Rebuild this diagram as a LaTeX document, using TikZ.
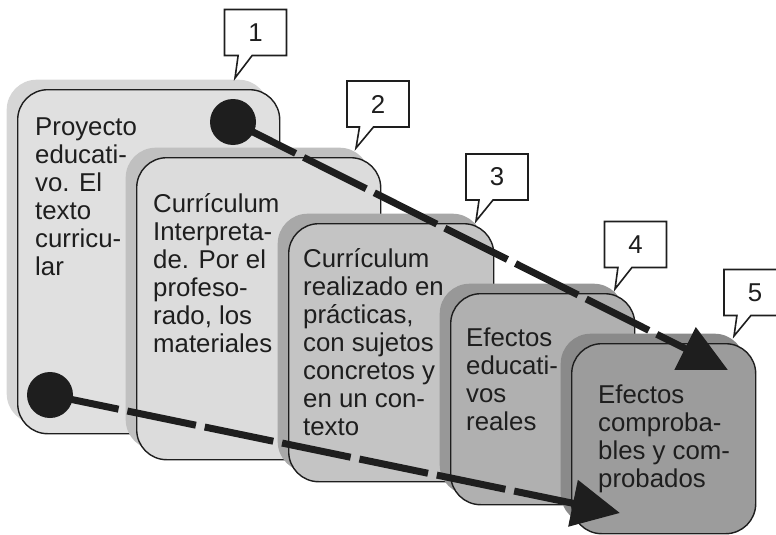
\documentclass[tikz,border=0pt]{standalone}
\usepackage{fontspec}
\setmainfont{Liberation Sans}
\usepackage{xcolor}
\usetikzlibrary{arrows.meta,shadows,shapes.callouts}

\definecolor{ink}{HTML}{1E1E1E}
\definecolor{fillA}{HTML}{E0E0E0}
\definecolor{shadeA}{HTML}{D6D6D6}
\definecolor{fillB}{HTML}{DCDCDC}
\definecolor{shadeB}{HTML}{C0C0C0}
\definecolor{fillC}{HTML}{C4C4C4}
\definecolor{shadeC}{HTML}{A8A8A8}
\definecolor{fillD}{HTML}{B0B0B0}
\definecolor{shadeD}{HTML}{989898}
\definecolor{fillE}{HTML}{9C9C9C}
\definecolor{shadeE}{HTML}{8A8A8A}

\tikzset{
  stage/.style 2 args={draw=ink, line width=1.4pt, rounded corners=30pt,
    fill=#1, anchor=north west, inner sep=0pt,
    general shadow={fill=#2, shadow xshift=-11pt, shadow yshift=10pt}},
  label text/.style={anchor=north west, align=left, inner sep=0pt,
    font=\fontsize{25.8}{28}\selectfont, text=ink},
  tag/.style={rectangle callout, draw=ink, line width=1.6pt, fill=white,
    minimum width=62pt, minimum height=46pt, inner sep=0pt,
    callout pointer width=14pt, font=\fontsize{25.8}{28}\selectfont, text=ink},
  dot/.style={circle, fill=ink, minimum size=46pt, inner sep=0pt},
  flow/.style={draw=ink, line width=7pt, dash pattern=on 70pt off 9pt,
    -{Triangle[length=48pt,width=46pt]}}
}

\begin{document}
\begin{tikzpicture}[x=1pt,y=-1pt]
    \useasboundingbox (0,0) rectangle (776,535);

    % the five stages, back to front
    \node[stage={fillA}{shadeA}, minimum width=262, minimum height=344] (b1) at (17,89) {};
    \node[stage={fillB}{shadeB}, minimum width=244, minimum height=302] (b2) at (136,157) {};
    \node[stage={fillC}{shadeC}, minimum width=205, minimum height=258] (b3) at (288,223) {};
    \node[stage={fillD}{shadeD}, minimum width=184, minimum height=211] (b4) at (450,293) {};
    \node[stage={fillE}{shadeE}, minimum width=184, minimum height=190] (b5) at (571,343) {};

    \node[label text] (t1) at ([shift={(18,29)}]b1.north west)
        {Proyecto\\educati-\\vo. El\\texto\\curricu-\\lar};
    \node[label text] (t2) at ([shift={(17,36)}]b2.north west)
        {Currículum\\Interpreta-\\de. Por el\\profeso-\\rado, los\\materiales};
    \node[label text] (t3) at ([shift={(15,25)}]b3.north west)
        {Currículum\\realizado en\\prácticas,\\con sujetos\\concretos y\\en un con-\\texto};
    \node[label text] (t4) at ([shift={(16,35)}]b4.north west)
        {Efectos\\educati-\\vos\\reales};
    \node[label text] (t5) at ([shift={(27,42)}]b5.north west)
        {Efectos\\comproba-\\bles y com-\\probados};

    % numbered callouts
    \node[tag, callout absolute pointer={(235,78)}] (n1) at (255.5,32.5) {1};
    \node[tag, callout absolute pointer={(356,148)}] (n2) at (378,104) {2};
    \node[tag, callout absolute pointer={(476,221)}] (n3) at (497,177) {3};
    \node[tag, callout absolute pointer={(615,289)}] (n4) at (635.5,244.5) {4};
    \node[tag, callout absolute pointer={(734,336)}] (n5) at (755,292.5) {5};

    % the two paths
    \node[dot] (d1) at (233,122) {};
    \node[dot] (d2) at (50,395) {};
    \coordinate (e1) at (728,370);
    \coordinate (e2) at (620,513);
    \draw[flow] (d1.center) -- (e1);
    \draw[flow] (d2.center) -- (e2);
\end{tikzpicture}
\end{document}
